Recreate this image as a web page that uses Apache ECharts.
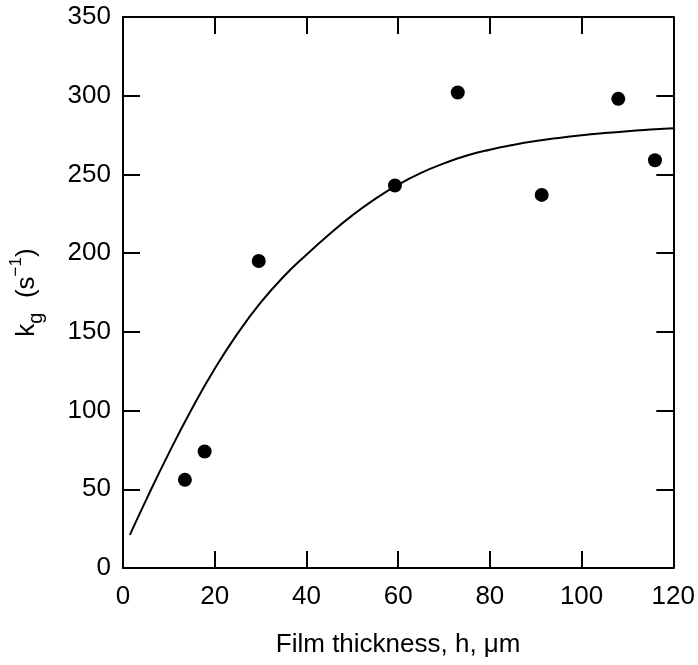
<!DOCTYPE html>
<html>
<head>
<meta charset="utf-8">
<script src="https://cdn.jsdelivr.net/npm/echarts@6/dist/echarts.min.js"></script>
<style>html,body{margin:0;padding:0;background:#fff;}#c{width:698px;height:665px;}</style>
</head>
<body>
<div id="c"></div>
<script>
// Measured data points (film thickness h in µm, kg in s^-1)
const pointX = [13.5, 17.8, 29.6, 59.3, 73, 91.3, 108, 116];
const pointY = [56, 74, 195, 243, 302, 237, 298, 259];
// Fitted curve
const curveX = [1.5, 5, 10, 15, 20, 25, 30, 35, 40, 45, 50, 55, 60, 65, 70, 75, 80, 85, 90, 95, 100, 105, 110, 115, 120];
const curveY = [21, 43, 73, 101, 126.5, 149, 168.5, 185, 199, 212, 224, 234.5, 243.5, 251, 257, 262, 265.7, 268.7, 271.2, 273.2, 274.9, 276.3, 277.5, 278.5, 279.4];
const xTicks = [0, 20, 40, 60, 80, 100, 120];
const yTicks = [0, 50, 100, 150, 200, 250, 300, 350];

const FONT = 'Liberation Sans';
const chart = echarts.init(document.getElementById('c'), null, {renderer: 'canvas'});
const axisLine = {show: true, onZero: false, lineStyle: {color: '#000', width: 2}};
const tick = {show: true, inside: true, length: 17, lineStyle: {color: '#000', width: 2}};
chart.setOption({
  animation: false,
  backgroundColor: '#fff',
  grid: {left: 123, right: 24, top: 17, bottom: 97},
  xAxis: [{
    type: 'value', min: xTicks[0], max: xTicks[xTicks.length - 1], interval: 20,
    position: 'bottom',
    axisLine: axisLine, axisTick: tick, splitLine: {show: false},
    axisLabel: {color: '#000', fontSize: 26, fontFamily: FONT, margin: 16},
    name: 'Film thickness, h, μm', nameLocation: 'middle', nameGap: 64, nameMoveOverlap: false,
    nameTextStyle: {color: '#000', fontSize: 26, fontFamily: FONT}
  }, {
    type: 'value', min: xTicks[0], max: xTicks[xTicks.length - 1], interval: 20,
    position: 'top',
    axisLine: axisLine, axisTick: tick, splitLine: {show: false},
    axisLabel: {show: false}
  }],
  yAxis: [{
    type: 'value', min: yTicks[0], max: yTicks[yTicks.length - 1], interval: 50,
    position: 'left',
    axisLine: axisLine, axisTick: tick, splitLine: {show: false},
    axisLabel: {color: '#000', fontSize: 26, fontFamily: FONT, margin: 12},
    name: '{m|k}{sub|g}{m|  (s}{sup|−1}{m|)}', nameLocation: 'middle', nameGap: 77, nameRotate: 90,
    nameTextStyle: {
      color: '#000', fontFamily: FONT, fontSize: 26,
      rich: {
        m: {fontSize: 26, fontFamily: FONT, color: '#000', lineHeight: 38, verticalAlign: 'middle'},
        sub: {fontSize: 20, fontFamily: FONT, color: '#000', verticalAlign: 'bottom', lineHeight: 20},
        sup: {fontSize: 17, fontFamily: FONT, color: '#000', verticalAlign: 'top', lineHeight: 17}
      }
    }
  }, {
    type: 'value', min: yTicks[0], max: yTicks[yTicks.length - 1], interval: 50,
    position: 'right',
    axisLine: axisLine, axisTick: tick, splitLine: {show: false},
    axisLabel: {show: false}
  }],
  series: [{
    type: 'line', smooth: true, showSymbol: false, symbol: 'none',
    data: curveX.map((x, i) => [x, curveY[i]]),
    lineStyle: {color: '#000', width: 2}
  }, {
    type: 'scatter', symbol: 'circle', symbolSize: 14,
    data: pointX.map((x, i) => [x, pointY[i]]),
    itemStyle: {color: '#000', opacity: 1}
  }]
});
</script>
</body>
</html>
